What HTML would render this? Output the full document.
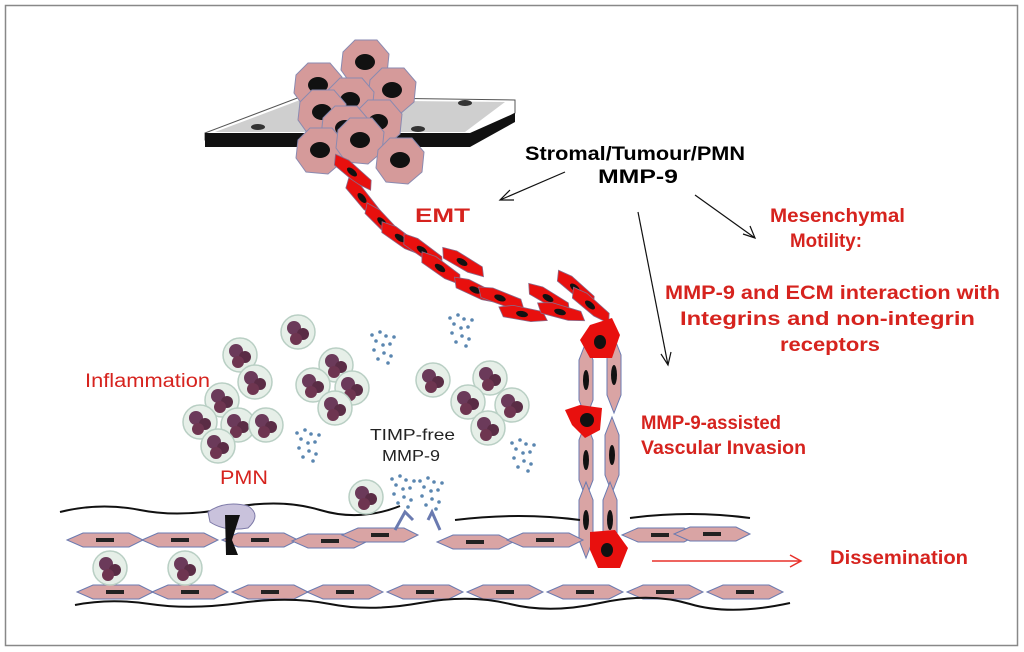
<!DOCTYPE html>
<html><head><meta charset="utf-8"><style>
html,body{margin:0;padding:0;background:#fff}
svg{display:block}
text{font-family:"Liberation Sans",sans-serif}
.b{font-weight:bold}
</style></head><body>
<svg width="1024" height="652" viewBox="0 0 1024 652">
<defs>
<g id="pmn"><circle r="17" fill="#e6efe8" stroke="#b9cfc4" stroke-width="1.5"/><circle cx="-4" cy="-4" r="7" fill="#6b3a5a"/><circle cx="5" cy="2" r="6" fill="#5a2c45"/><circle cx="-2" cy="7" r="6" fill="#6e3550"/></g>
<g id="dots" fill="#5a86b0"><circle cx="0" cy="0" r="1.8"/><circle cx="6" cy="4" r="1.8"/><circle cx="-4" cy="9" r="1.8"/><circle cx="3" cy="13" r="1.8"/><circle cx="10" cy="12" r="1.8"/><circle cx="-6" cy="18" r="1.8"/><circle cx="4" cy="21" r="1.8"/><circle cx="11" cy="24" r="1.8"/><circle cx="-2" cy="27" r="1.8"/><circle cx="8" cy="31" r="1.8"/><circle cx="14" cy="5" r="1.8"/><circle cx="-8" cy="3" r="1.8"/></g>
<g id="endo"><path d="M-38,0 L-22,-7 L24,-7 L38,0 L24,7 L-22,7Z" fill="#d9a4a4" stroke="#6a7ab0" stroke-width="1"/><rect x="-9" y="-2" width="18" height="4" fill="#222"/></g>
<g id="vcell"><path d="M0,-38 L7,-20 L7,20 L0,38 L-7,20 L-7,-20Z" fill="#d9a4a4" stroke="#6a7ab0" stroke-width="1"/><ellipse rx="3" ry="10" fill="#111"/></g>
<g id="red"><path d="M-24,-3 L-10,-7 L20,-6 L26,2 L10,6 L-18,6Z" fill="#e8100e" stroke="#8a6a8a" stroke-width="0.8"/><ellipse rx="6" ry="3" fill="#111"/></g>
<g id="tc"><path d="M-22,-10 L-10,-22 L12,-22 L24,-8 L22,12 L8,24 L-14,22 L-24,8Z" fill="#d59a9a" stroke="#8a8ab0" stroke-width="1"/><ellipse rx="10" ry="8" fill="#111"/></g>
</defs>
<rect x="5.5" y="5.5" width="1012" height="640" fill="#fff" stroke="#888" stroke-width="1.5"/>
<!-- platform -->
<path d="M205,133 L300,97 L515,100 L515,113 L470,140 L205,140Z" fill="#fff" stroke="#555"/>
<path d="M215,132 L300,100 L505,102 L465,132Z" fill="#cfcfcf"/>
<path d="M205,133 L470,133 L515,113 L515,122 L470,147 L205,147Z" fill="#111"/>
<ellipse cx="258" cy="127" rx="7" ry="3" fill="#333"/><ellipse cx="418" cy="129" rx="7" ry="3" fill="#333"/><ellipse cx="465" cy="103" rx="7" ry="3" fill="#333"/>
<!-- tumour cluster -->
<use href="#tc" x="365" y="62"/><use href="#tc" x="318" y="85"/><use href="#tc" x="392" y="90"/><use href="#tc" x="350" y="100"/><use href="#tc" x="322" y="112"/><use href="#tc" x="378" y="122"/><use href="#tc" x="345" y="128"/><use href="#tc" x="320" y="150"/><use href="#tc" x="360" y="140"/><use href="#tc" x="400" y="160"/>
<!-- EMT chain -->
<g>
<use href="#red" transform="translate(352,172) rotate(40)"/><use href="#red" transform="translate(362,198) rotate(50)"/><use href="#red" transform="translate(382,222) rotate(45)"/><use href="#red" transform="translate(400,238) rotate(35)"/><use href="#red" transform="translate(422,250) rotate(35)"/><use href="#red" transform="translate(440,268) rotate(35)"/><use href="#red" transform="translate(462,262) rotate(30)"/><use href="#red" transform="translate(475,290) rotate(25)"/><use href="#red" transform="translate(500,298) rotate(20)"/><use href="#red" transform="translate(522,314) rotate(10)"/><use href="#red" transform="translate(548,298) rotate(30)"/><use href="#red" transform="translate(575,288) rotate(40)"/><use href="#red" transform="translate(560,312) rotate(15)"/><use href="#red" transform="translate(590,305) rotate(40)"/>
</g>
<!-- vertical vessel -->
<use href="#vcell" x="586" y="380"/><use href="#vcell" x="614" y="375"/><use href="#vcell" x="586" y="460"/><use href="#vcell" x="612" y="455"/><use href="#vcell" x="586" y="520"/><use href="#vcell" x="610" y="520"/>
<path d="M590,325 L612,318 L620,335 L612,358 L590,358 L580,340Z" fill="#e8100e"/><ellipse cx="600" cy="342" rx="6" ry="7" fill="#111"/>
<path d="M565,410 L580,405 L602,408 L600,430 L585,438 L572,425Z" fill="#e8100e"/><ellipse cx="587" cy="420" rx="7" ry="7" fill="#111"/>
<path d="M590,532 L615,530 L628,548 L620,568 L598,568 L590,550Z" fill="#e8100e"/><ellipse cx="607" cy="550" rx="6" ry="7" fill="#111"/>
<!-- vessel walls -->
<path d="M60,512 Q100,502 140,510 T230,508 T320,510 T400,506" fill="none" stroke="#111" stroke-width="2"/>
<path d="M455,520 Q520,512 580,520" fill="none" stroke="#111" stroke-width="2"/>
<path d="M630,518 Q690,510 750,518" fill="none" stroke="#111" stroke-width="2"/>
<use href="#endo" x="105" y="540"/><use href="#endo" x="180" y="540"/><use href="#endo" x="260" y="540"/><use href="#endo" x="330" y="541"/><use href="#endo" x="380" y="535"/><use href="#endo" x="475" y="542"/><use href="#endo" x="545" y="540"/><use href="#endo" x="660" y="535"/><use href="#endo" x="712" y="534"/>
<path d="M395,530 L405,512 L413,520" fill="none" stroke="#6a7ab0" stroke-width="3"/><path d="M440,530 L432,512 L428,520" fill="none" stroke="#6a7ab0" stroke-width="3"/>
<path d="M208,512 Q225,500 248,506 Q262,515 248,528 Q225,532 210,522Z" fill="#c9c2dc" stroke="#7d7aa8"/>
<path d="M225,515 L240,515 L232,540 L238,555 L226,555Z" fill="#111"/>
<use href="#endo" x="115" y="592"/><use href="#endo" x="190" y="592"/><use href="#endo" x="270" y="592"/><use href="#endo" x="345" y="592"/><use href="#endo" x="425" y="592"/><use href="#endo" x="505" y="592"/><use href="#endo" x="585" y="592"/><use href="#endo" x="665" y="592"/><use href="#endo" x="745" y="592"/>
<path d="M75,605 Q110,598 150,604 T240,603 T330,604 T420,603 T510,604 T600,603 T690,604 T790,603" fill="none" stroke="#111" stroke-width="2"/>
<!-- PMN -->
<use href="#pmn" x="298" y="332"/><use href="#pmn" x="240" y="355"/><use href="#pmn" x="336" y="365"/><use href="#pmn" x="255" y="382"/><use href="#pmn" x="313" y="385"/><use href="#pmn" x="352" y="388"/><use href="#pmn" x="335" y="408"/><use href="#pmn" x="222" y="400"/><use href="#pmn" x="200" y="422"/><use href="#pmn" x="238" y="425"/><use href="#pmn" x="266" y="425"/><use href="#pmn" x="218" y="446"/><use href="#pmn" x="433" y="380"/><use href="#pmn" x="490" y="378"/><use href="#pmn" x="468" y="402"/><use href="#pmn" x="512" y="405"/><use href="#pmn" x="488" y="428"/><use href="#pmn" x="366" y="497"/><use href="#pmn" x="110" y="568"/><use href="#pmn" x="185" y="568"/>
<!-- dots -->
<use href="#dots" x="380" y="332"/><use href="#dots" x="458" y="315"/><use href="#dots" x="305" y="430"/><use href="#dots" x="520" y="440"/><use href="#dots" x="400" y="476"/><use href="#dots" x="428" y="478"/>
<!-- arrows -->
<g stroke="#111" stroke-width="1.2" fill="none">
<path d="M565,172 L500,200"/><path d="M510,190 L500,200 L514,200"/>
<path d="M695,195 L755,238"/><path d="M743,234 L755,238 L750,226"/>
<path d="M638,212 L668,365"/><path d="M661,354 L668,365 L671,352"/>
</g>
<path d="M652,561 L800,561" stroke="#e8302a" stroke-width="1.5"/><path d="M790,555 L801,561 L790,567" fill="none" stroke="#e8302a" stroke-width="1.5"/>
<!-- text -->
<g font-size="19" lengthAdjust="spacingAndGlyphs">
<text x="525" y="160" class="b" textLength="220" lengthAdjust="spacingAndGlyphs">Stromal/Tumour/PMN</text>
<text x="598" y="183" class="b" textLength="80" lengthAdjust="spacingAndGlyphs">MMP-9</text>
<text x="415" y="222" class="b" fill="#d6231e" textLength="55" lengthAdjust="spacingAndGlyphs">EMT</text>
<text x="770" y="222" class="b" fill="#d6231e" textLength="135" lengthAdjust="spacingAndGlyphs">Mesenchymal</text>
<text x="790" y="247" class="b" fill="#d6231e" textLength="72" lengthAdjust="spacingAndGlyphs">Motility:</text>
<text x="665" y="299" class="b" fill="#d6231e" textLength="335" lengthAdjust="spacingAndGlyphs">MMP-9 and ECM interaction with</text>
<text x="680" y="325" class="b" fill="#d6231e" textLength="295" lengthAdjust="spacingAndGlyphs">Integrins and non-integrin</text>
<text x="780" y="351" class="b" fill="#d6231e" textLength="100" lengthAdjust="spacingAndGlyphs">receptors</text>
<text x="85" y="387" fill="#d6231e" textLength="125" lengthAdjust="spacingAndGlyphs">Inflammation</text>
<text x="220" y="484" fill="#d6231e" textLength="48" lengthAdjust="spacingAndGlyphs">PMN</text>
<text x="641" y="429" class="b" fill="#d6231e" textLength="140" lengthAdjust="spacingAndGlyphs">MMP-9-assisted</text>
<text x="641" y="454" class="b" fill="#d6231e" textLength="165" lengthAdjust="spacingAndGlyphs">Vascular Invasion</text>
<text x="830" y="564" class="b" fill="#d6231e" textLength="138" lengthAdjust="spacingAndGlyphs">Dissemination</text>
</g>
<text x="370" y="440" font-size="16" fill="#222" textLength="85" lengthAdjust="spacingAndGlyphs">TIMP-free</text>
<text x="382" y="461" font-size="16" fill="#222" textLength="58" lengthAdjust="spacingAndGlyphs">MMP-9</text>
</svg>
</body></html>
